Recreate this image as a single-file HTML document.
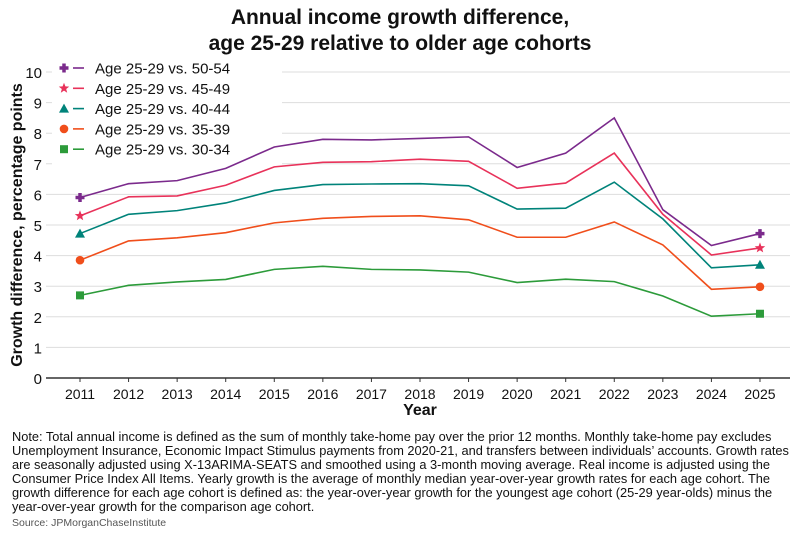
<!DOCTYPE html>
<html><head><meta charset="utf-8"><style>
body{margin:0;background:#fff;width:800px;height:537px;overflow:hidden;font-family:"Liberation Sans",sans-serif;}
.note{position:absolute;left:12px;top:430px;width:790px;font-size:12.8px;line-height:14px;color:#111;white-space:nowrap}
.src{position:absolute;left:12px;top:517px;font-size:10.5px;color:#555}
</style></head><body>
<svg id="s" width="800" height="430" style="position:absolute;left:0;top:0" font-family="Liberation Sans, sans-serif">
<text x="400" y="24" text-anchor="middle" font-size="21" font-weight="bold" fill="#111">Annual income growth difference,</text>
<text x="400" y="50" text-anchor="middle" font-size="21" font-weight="bold" fill="#111">age 25-29 relative to older age cohorts</text>
<text transform="translate(22,225) rotate(-90)" text-anchor="middle" font-size="16" font-weight="bold" fill="#111">Growth difference, percentage points</text>
<text x="420" y="415" text-anchor="middle" font-size="16" font-weight="bold" fill="#111">Year</text>
<g id="g"></g>
</svg>
<div class="note">Note: Total annual income is defined as the sum of monthly take-home pay over the prior 12 months. Monthly take-home pay excludes<br>Unemployment Insurance, Economic Impact Stimulus payments from 2020-21, and transfers between individuals’ accounts. Growth rates<br>are seasonally adjusted using X-13ARIMA-SEATS and smoothed using a 3-month moving average. Real income is adjusted using the<br>Consumer Price Index All Items. Yearly growth is the average of monthly median year-over-year growth rates for each age cohort. The<br>growth difference for each age cohort is defined as: the year-over-year growth for the youngest age cohort (25-29 year-olds) minus the<br>year-over-year growth for the comparison age cohort.</div>
<div class="src">Source: JPMorganChaseInstitute</div>
<script>
var g=document.getElementById('g'),h='';
function Y(v){return 378-v*30.6}function X(i){return 80+i*48.57}
for(var v=1;v<=10;v++)h+='<line x1="46" x2="790" y1="'+Y(v)+'" y2="'+Y(v)+'" stroke="#ddd" stroke-width="1"/>';
for(var v=0;v<=10;v++)h+='<text x="42" y="'+(Y(v)+6)+'" text-anchor="end" font-size="15" fill="#111">'+v+'</text>';
h+='<line x1="46" x2="790" y1="378" y2="378" stroke="#333" stroke-width="1.5"/>';
for(var i=0;i<15;i++){h+='<line x1="'+X(i)+'" x2="'+X(i)+'" y1="378" y2="382" stroke="#333"/><text x="'+X(i)+'" y="399" text-anchor="middle" font-size="14" fill="#111">'+(2011+i)+'</text>';}
var S=[
['#7b2a8c','plus','Age 25-29 vs. 50-54',[5.9,6.35,6.45,6.85,7.55,7.8,7.78,7.83,7.88,6.88,7.35,8.5,5.5,4.33,4.72]],
['#e8325a','star','Age 25-29 vs. 45-49',[5.3,5.92,5.95,6.3,6.9,7.05,7.07,7.15,7.08,6.2,6.37,7.35,5.35,4.02,4.25]],
['#00837a','tri','Age 25-29 vs. 40-44',[4.72,5.35,5.47,5.72,6.13,6.32,6.34,6.35,6.28,5.52,5.55,6.4,5.2,3.6,3.7]],
['#f04e1b','circ','Age 25-29 vs. 35-39',[3.85,4.48,4.58,4.75,5.07,5.22,5.28,5.3,5.17,4.6,4.6,5.1,4.35,2.9,2.98]],
['#2c9b3a','sq','Age 25-29 vs. 30-34',[2.7,3.03,3.14,3.22,3.55,3.65,3.55,3.53,3.46,3.12,3.23,3.15,2.68,2.02,2.1]]];
function M(t,x,y,c){
if(t=='plus')return '<path d="M'+(x-4.5)+' '+y+'h9M'+x+' '+(y-4.5)+'v9" stroke="'+c+'" stroke-width="3.5"/>';
if(t=='star'){var p='';for(var k=0;k<10;k++){var r=k%2?2.3:5.5,a=-Math.PI/2+k*Math.PI/5;p+=(k?'L':'M')+(x+r*Math.cos(a)).toFixed(1)+' '+(y+r*Math.sin(a)).toFixed(1);}return '<path d="'+p+'Z" fill="'+c+'"/>';}
if(t=='tri')return '<path d="M'+x+' '+(y-5)+'L'+(x+5)+' '+(y+4)+'L'+(x-5)+' '+(y+4)+'Z" fill="'+c+'"/>';
if(t=='circ')return '<circle cx="'+x+'" cy="'+y+'" r="4.3" fill="'+c+'"/>';
return '<rect x="'+(x-4)+'" y="'+(y-4)+'" width="8" height="8" fill="'+c+'"/>';}
h+='<rect x="52" y="58" width="230" height="108" fill="#fff"/>';
S.forEach(function(s,j){var pts=s[3].map(function(v,i){return X(i)+','+Y(v)}).join(' ');
h+='<polyline points="'+pts+'" fill="none" stroke="'+s[0]+'" stroke-width="1.6"/>';
h+=M(s[1],X(0),Y(s[3][0]),s[0])+M(s[1],X(14),Y(s[3][14]),s[0]);
var ly=68+j*20.3;h+=M(s[1],64,ly,s[0])+'<line x1="73" x2="84" y1="'+ly+'" y2="'+ly+'" stroke="'+s[0]+'" stroke-width="1.6"/><text x="95" y="'+(ly+5.5)+'" font-size="15" fill="#111">'+s[2]+'</text>';});
g.innerHTML=h;
</script>
</body></html>
